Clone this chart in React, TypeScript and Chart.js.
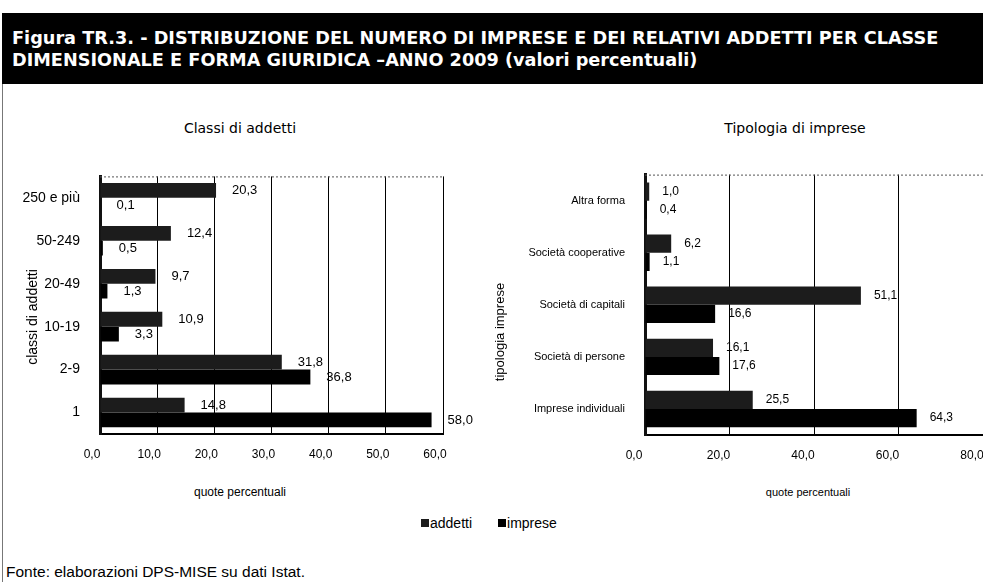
import React, { useEffect, useRef } from "react";
import { Chart, registerables } from "chart.js";

Chart.register(...registerables);

// ---- data ----
const classi = ["250 e più", "50-249", "20-49", "10-19", "2-9", "1"];
const classiAddetti = [20.3, 12.4, 9.7, 10.9, 31.8, 14.8];
const classiImprese = [0.1, 0.5, 1.3, 3.3, 36.8, 58.0];

const tipologie = [
  "Altra forma",
  "Società cooperative",
  "Società di capitali",
  "Società di persone",
  "Imprese individuali",
];
const tipoAddetti = [1.0, 6.2, 51.1, 16.1, 25.5];
const tipoImprese = [0.4, 1.1, 16.6, 17.6, 64.3];

const seriesNames = ["addetti", "imprese"];
const leftAxisMax = 60;
const leftAxisStep = 10;
const rightAxisMax = 80;
const rightAxisStep = 20;

const SANS = '"Liberation Sans", Arial, sans-serif';

function fmt(v: number): string {
  return v.toFixed(1).replace(".", ",");
}

const valueLabels = {
  id: "valueLabels",
  afterDatasetsDraw(chart: any, _args: any, opts: any) {
    const ctx = chart.ctx;
    ctx.save();
    ctx.font = `${opts.size}px ${SANS}`;
    ctx.fillStyle = "#000";
    ctx.textAlign = "left";
    ctx.textBaseline = "middle";
    chart.data.datasets.forEach((ds: any, i: number) => {
      const meta = chart.getDatasetMeta(i);
      meta.data.forEach((el: any, j: number) => {
        ctx.fillText(fmt(ds.data[j]), el.x + opts.offset, el.y);
      });
    });
    ctx.restore();
  },
};

const frame = {
  id: "frame",
  beforeDatasetsDraw(chart: any) {
    const { ctx, chartArea } = chart;
    ctx.save();
    ctx.strokeStyle = "#555";
    ctx.lineWidth = 1;
    ctx.setLineDash([2, 2]);
    ctx.beginPath();
    ctx.moveTo(chartArea.left, chartArea.top + 0.5);
    ctx.lineTo(chartArea.right, chartArea.top + 0.5);
    ctx.stroke();
    ctx.restore();
  },
};

type Props = {
  labels: string[];
  a: number[];
  b: number[];
  max: number;
  step: number;
  yWidth: number;
  tickPad: number;
  tickSize: number;
  labelSize: number;
  labelOffset: number;
  xLabelOffset: number;
  padTop: number;
  padRight: number;
  catPct: number;
  style: React.CSSProperties;
  width: number;
  height: number;
};

function BarChart(p: Props) {
  const ref = useRef<HTMLCanvasElement | null>(null);
  useEffect(() => {
    if (!ref.current) return;
    const chart = new Chart(ref.current, {
      type: "bar",
      data: {
        labels: p.labels,
        datasets: [
          {
            label: seriesNames[0],
            data: p.a,
            backgroundColor: "#1c1c1c",
            borderWidth: 0,
            categoryPercentage: p.catPct,
            barPercentage: 1,
          },
          {
            label: seriesNames[1],
            data: p.b,
            backgroundColor: "#000",
            borderWidth: 0,
            categoryPercentage: p.catPct,
            barPercentage: 1,
          },
        ],
      },
      options: {
        indexAxis: "y",
        responsive: false,
        animation: false,
        layout: { padding: { top: p.padTop, right: p.padRight, bottom: 0, left: 0 } },
        plugins: {
          legend: { display: false },
          tooltip: { enabled: false },
          title: { display: false },
          valueLabels: { size: p.labelSize, offset: p.labelOffset },
        } as any,
        scales: {
          x: {
            min: 0,
            max: p.max,
            ticks: {
              stepSize: p.step,
              callback: (v: any) => fmt(Number(v)),
              font: { family: SANS, size: 12 },
              color: "#000",
              padding: 13,
              labelOffset: p.xLabelOffset,
              maxRotation: 0,
            },
            grid: { color: "#000", lineWidth: 1, drawTicks: false },
            border: { display: true, color: "#000", width: 2 },
            afterFit: (s: any) => {
              s.height = 30;
            },
          },
          y: {
            ticks: {
              font: { family: SANS, size: p.tickSize },
              color: "#000",
              padding: p.tickPad,
            },
            grid: { display: false, drawTicks: false },
            border: { display: true, color: "#111", width: 3 },
            afterFit: (s: any) => {
              s.width = p.yWidth;
            },
          },
        },
      },
      plugins: [valueLabels, frame],
    });
    return () => chart.destroy();
  }, []);
  return (
    <canvas
      ref={ref}
      width={p.width}
      height={p.height}
      style={{ position: "absolute", ...p.style, width: p.width, height: p.height }}
    />
  );
}

function VTitle({ text, cx, cy, size }: { text: string; cx: number; cy: number; size: number }) {
  const w = 160;
  const h = 18;
  return (
    <div
      style={{
        position: "absolute",
        left: cx - w / 2,
        top: cy - h / 2,
        width: w,
        height: h,
        lineHeight: `${h}px`,
        textAlign: "center",
        fontSize: size,
        whiteSpace: "nowrap",
        transform: "rotate(-90deg)",
      }}
    >
      {text}
    </div>
  );
}

export default function App() {
  const abs = (s: React.CSSProperties): React.CSSProperties => ({ position: "absolute", ...s });
  return (
    <div
      style={{
        position: "fixed",
        left: 0,
        top: 0,
        width: 983,
        height: 582,
        overflow: "hidden",
        background: "#fff",
        fontFamily: SANS,
        color: "#000",
      }}
    >
      <div style={abs({ left: 2, top: 13, width: 981, height: 71, background: "#000" })} />
      <div
        style={abs({
          left: 12,
          top: 27,
          width: 970,
          color: "#fff",
          fontFamily: '"DejaVu Sans", sans-serif',
          fontWeight: "bold",
          fontSize: 17.7,
          lineHeight: "22px",
          whiteSpace: "nowrap",
        })}
      >
        <div>Figura TR.3. - DISTRIBUZIONE DEL NUMERO DI IMPRESE E DEI RELATIVI ADDETTI PER CLASSE</div>
        <div>DIMENSIONALE E FORMA GIURIDICA –ANNO 2009 (valori percentuali)</div>
      </div>
      <div style={abs({ left: 2, top: 84, width: 1, height: 498, background: "#777" })} />

      <div
        style={abs({
          left: 40,
          width: 400,
          top: 119,
          textAlign: "center",
          fontFamily: '"DejaVu Sans", sans-serif',
          fontSize: 14,
          lineHeight: "18px",
        })}
      >
        Classi di addetti
      </div>
      <div
        style={abs({
          left: 595,
          width: 400,
          top: 119,
          textAlign: "center",
          fontFamily: '"DejaVu Sans", sans-serif',
          fontSize: 14,
          lineHeight: "18px",
        })}
      >
        Tipologia di imprese
      </div>

      <BarChart
        labels={classi}
        a={classiAddetti}
        b={classiImprese}
        max={leftAxisMax}
        step={leftAxisStep}
        yWidth={100}
        tickPad={20}
        tickSize={14}
        labelSize={13}
        labelOffset={16}
        xLabelOffset={-8}
        padTop={23}
        padRight={37}
        catPct={0.69}
        style={{ left: 0, top: 148 }}
        width={480}
        height={316}
      />
      <BarChart
        labels={tipologie}
        a={tipoAddetti}
        b={tipoImprese}
        max={rightAxisMax}
        step={rightAxisStep}
        yWidth={165}
        tickPad={20}
        tickSize={11}
        labelSize={12}
        labelOffset={13}
        xLabelOffset={-11}
        padTop={22}
        padRight={27}
        catPct={0.7}
        style={{ left: 480, top: 148 }}
        width={530}
        height={317}
      />

      <VTitle text="classi di addetti" cx={32} cy={317} size={14} />
      <VTitle text="tipologia imprese" cx={500} cy={332} size={13} />

      <div style={abs({ left: 140, width: 200, top: 485, textAlign: "center", fontSize: 12, lineHeight: "14px" })}>
        quote percentuali
      </div>
      <div style={abs({ left: 708, width: 200, top: 485, textAlign: "center", fontSize: 11, lineHeight: "14px" })}>
        quote percentuali
      </div>

      <div
        style={abs({
          left: 421,
          top: 515,
          fontSize: 14,
          lineHeight: "16px",
          whiteSpace: "nowrap",
          display: "flex",
          alignItems: "center",
        })}
      >
        <span style={{ display: "inline-block", width: 8, height: 8, background: "#1c1c1c", marginRight: 1 }} />
        <span>{seriesNames[0]}</span>
        <span style={{ display: "inline-block", width: 8, height: 8, background: "#000", marginLeft: 26, marginRight: 1 }} />
        <span>{seriesNames[1]}</span>
      </div>

      <div style={abs({ left: 6, top: 563, fontSize: 15.5, lineHeight: "18px", whiteSpace: "nowrap" })}>
        Fonte: elaborazioni DPS-MISE su dati Istat.
      </div>
    </div>
  );
}
